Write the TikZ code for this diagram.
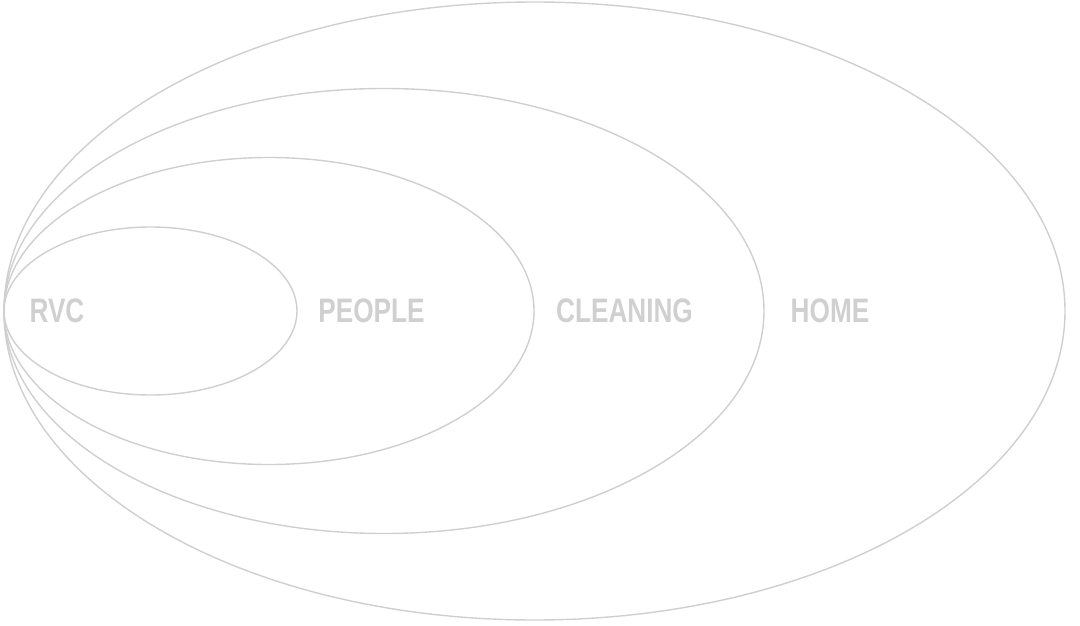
\documentclass[tikz,border=0pt]{standalone}
\usepackage{fontspec}
\setmainfont{Liberation Sans}
\usepackage{tikz}
\definecolor{ringgray}{HTML}{CFCFCF}
\definecolor{labgray}{HTML}{D0D0D0}
\newfontfamily\condfont[FakeStretch=0.77]{Liberation Sans}

\begin{document}
\begin{tikzpicture}[x=1pt,y=-1pt,
  ring/.style={draw=ringgray,line width=1.4pt},
  lab/.style={font=\condfont\bfseries\fontsize{34}{34}\selectfont,text=labgray,inner sep=0pt,anchor=center}]
\useasboundingbox (0,0) rectangle (1080,626);
% nested rings, all touching at the left
\draw[ring] (534.5,311) ellipse [x radius=530.5,y radius=309];
\draw[ring] (384,311) ellipse [x radius=380,y radius=222.5];
\draw[ring] (269,311) ellipse [x radius=265,y radius=153.5];
\draw[ring] (150.5,311) ellipse [x radius=146.5,y radius=84];
\node[lab] (rvc) at (57,311) {RVC};
\node[lab] (people) at (371.5,311) {PEOPLE};
\node[lab] (cleaning) at (624.5,311) {CLEANING};
\node[lab] (home) at (830,311) {HOME};
\end{tikzpicture}
\end{document}
